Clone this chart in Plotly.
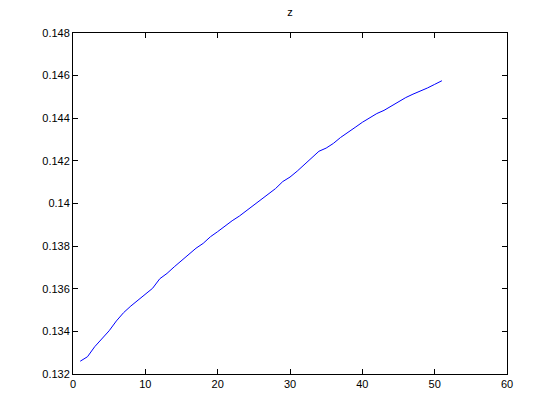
import plotly.graph_objects as go

x_vals = list(range(1, 52))
z_vals = [0.13260, 0.13281, 0.13328, 0.13367, 0.13403, 0.13449, 0.13488, 0.13519, 0.13547, 0.13574,
          0.13602, 0.13647, 0.13672, 0.13703, 0.13732, 0.13761, 0.13790, 0.13813, 0.13844, 0.13868,
          0.13894, 0.13919, 0.13941, 0.13966, 0.13991, 0.14016, 0.14043, 0.14070, 0.14103, 0.14124,
          0.14152, 0.14183, 0.14218, 0.14245, 0.14260, 0.14282, 0.14310, 0.14332, 0.14357, 0.14381,
          0.14402, 0.14422, 0.14437, 0.14457, 0.14480, 0.14497, 0.14513, 0.14527, 0.14542, 0.14559,
          0.14576]

x_ticks = [0, 10, 20, 30, 40, 50, 60]
y_ticks = [0.132, 0.134, 0.136, 0.138, 0.14, 0.142, 0.144, 0.146, 0.148]
y_labels = ["0.132", "0.134", "0.136", "0.138", "0.14", "0.142", "0.144", "0.146", "0.148"]

fig = go.Figure()
fig.add_trace(go.Scatter(x=x_vals, y=z_vals, mode="lines",
                         line=dict(color="#0000ff", width=1), showlegend=False))

axis_common = dict(showline=True, linecolor="black", linewidth=1, mirror="ticks",
                   ticks="inside", ticklen=5, tickcolor="black", showgrid=False,
                   zeroline=False, tickfont=dict(family="Liberation Sans, Arial", size=11, color="black"))

fig.update_layout(
    width=560, height=420,
    margin=dict(l=73, r=53, t=33, b=46),
    paper_bgcolor="white", plot_bgcolor="white",
    title=dict(text="z", x=0.518, xanchor="center", y=0.972, yanchor="middle",
               font=dict(family="Liberation Sans, Arial", size=11, color="black")),
    xaxis=dict(range=[0, 60], tickvals=x_ticks, **axis_common),
    yaxis=dict(range=[0.132, 0.148], tickvals=y_ticks, ticktext=y_labels, **axis_common),
)

fig.write_html("out.html", config={"displayModeBar": False},
               post_script="document.body.style.margin='0';document.body.style.overflow='hidden';")
